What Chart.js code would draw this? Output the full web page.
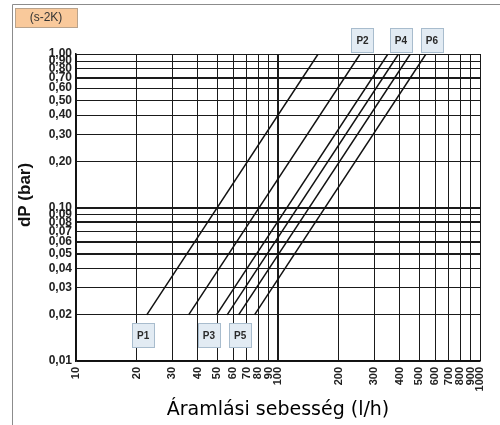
<!DOCTYPE html>
<html>
<head>
<meta charset="utf-8">
<script src="https://cdn.jsdelivr.net/npm/chart.js@4.4.1/dist/chart.umd.min.js"></script>
<style>
    html, body { margin: 0; padding: 0; background: #fff; }
    #wrap { width: 500px; height: 425px; }
</style>
</head>
<body>
<div id="wrap"><canvas id="chart"></canvas></div>
<script>
// Values
const seriesNames = ["P1", "P2", "P3", "P4", "P5", "P6"];
const dpEnds = [0.02, 1.00];                              // bar, where every line starts and ends
const flowAtLowDp = [22.4, 36.1, 49.6, 56.0, 63.8, 76.5]; // l/h at 0.02 bar
const flowAtHighDp = [158, 255, 350, 395, 452, 540];      // l/h at 1.00 bar

// where the P-name tags sit, in axis units
const tagFlow = [21.5, 262, 45.5, 406, 65, 578];
const tagDp = [0.0148, 1.235, 0.0148, 1.235, 0.0148, 1.235];

const xTicks = [10, 20, 30, 40, 50, 60, 70, 80, 90, 100, 200, 300, 400, 500, 600, 700, 800, 900, 1000];
const xTickLabels = ["10", "20", "30", "40", "50", "60", "70", "80", "90", "100", "200", "300", "400", "500", "600", "700", "800", "900", "1000"];
const yTicks = [0.01, 0.02, 0.03, 0.04, 0.05, 0.06, 0.07, 0.08, 0.09, 0.1, 0.2, 0.3, 0.4, 0.5, 0.6, 0.7, 0.8, 0.9, 1];
const yTickLabels = ["0,01", "0,02", "0,03", "0,04", "0,05", "0,06", "0,07", "0,08", "0,09", "0,10", "0,20", "0,30", "0,40", "0,50", "0,60", "0,70", "0,80", "0,90", "1,00"];

// grid lines that look heavier in the original
const yHeavy = [0.05, 0.06, 0.08, 0.1, 0.7];
const xHeavy = [100];

const datasets = seriesNames.map((name, i) => ({
    label: name,
    data: [
        { x: flowAtLowDp[i], y: dpEnds[0] },
        { x: flowAtHighDp[i], y: dpEnds[1] }
    ],
    borderColor: '#111',
    borderWidth: 1.5,
    pointRadius: 0,
    fill: false
}));

// frame, tag box, y title and the P1..P6 tags
const decorations = {
    id: 'decorations',
    afterDraw(chart) {
        const ctx = chart.ctx;
        const xs = chart.scales.x;
        const ys = chart.scales.y;
        ctx.save();

        // outer frame (only left and top visible)
        ctx.strokeStyle = '#8c8c8c';
        ctx.lineWidth = 1;
        ctx.beginPath();
        ctx.moveTo(12.5, 425);
        ctx.lineTo(12.5, 4.5);
        ctx.lineTo(500, 4.5);
        ctx.stroke();

        // (s-2K) box
        ctx.fillStyle = '#f9c99b';
        ctx.fillRect(15, 8, 62, 19);
        ctx.strokeStyle = '#b9a38c';
        ctx.strokeRect(15.5, 8.5, 62, 19);
        ctx.fillStyle = '#333';
        ctx.font = '12px "Liberation Sans", Arial, sans-serif';
        ctx.textAlign = 'center';
        ctx.textBaseline = 'middle';
        ctx.fillText('(s-2K)', 46, 18);

        // y axis title
        ctx.save();
        ctx.translate(25, 195);
        ctx.rotate(-Math.PI / 2);
        ctx.fillStyle = '#111';
        ctx.font = 'bold 17px "Liberation Sans", Arial, sans-serif';
        ctx.fillText('dP (bar)', 0, 0);
        ctx.restore();

        // series tags
        ctx.font = 'bold 10px "Liberation Sans", Arial, sans-serif';
        seriesNames.forEach((name, i) => {
            const cx = xs.getPixelForValue(tagFlow[i]);
            const cy = ys.getPixelForValue(tagDp[i]);
            ctx.fillStyle = '#e2ebf3';
            ctx.fillRect(Math.round(cx - 11), Math.round(cy - 12), 22, 24);
            ctx.strokeStyle = '#a8bccd';
            ctx.strokeRect(Math.round(cx - 11) + 0.5, Math.round(cy - 12) + 0.5, 22, 24);
            ctx.fillStyle = '#2a2a2a';
            ctx.fillText(name, cx, cy + 1);
        });

        ctx.restore();
    }
};

new Chart(document.getElementById('chart'), {
    type: 'line',
    data: { datasets: datasets },
    options: {
        responsive: true,
        maintainAspectRatio: false,
        animation: false,
        parsing: false,
        layout: { padding: { top: 54, right: 20, bottom: 0, left: 0 } },
        plugins: {
            legend: { display: false },
            tooltip: { enabled: false }
        },
        scales: {
            x: {
                type: 'logarithmic',
                min: 10,
                max: 1000,
                afterBuildTicks: scale => { scale.ticks = xTicks.map(v => ({ value: v })); },
                afterFit: scale => { scale.height = 64; },
                border: { display: true, color: '#111', width: 1.5 },
                grid: {
                    drawTicks: false,
                    color: '#1a1a1a',
                    lineWidth: c => xHeavy.includes(c.tick && c.tick.value) ? 2 : 1
                },
                ticks: {
                    autoSkip: false,
                    minRotation: 90,
                    maxRotation: 90,
                    padding: 6,
                    color: '#222',
                    font: { family: '"Liberation Sans", Arial, sans-serif', size: 11, weight: 'bold' },
                    callback: value => xTickLabels[xTicks.indexOf(value)]
                },
                title: {
                    display: true,
                    text: 'Áramlási sebesség (l/h)',
                    color: '#000',
                    font: { family: '"DejaVu Sans", sans-serif', size: 19 },
                    padding: { top: 0, bottom: 4 }
                }
            },
            y: {
                type: 'logarithmic',
                min: 0.01,
                max: 1,
                afterBuildTicks: scale => { scale.ticks = yTicks.map(v => ({ value: v })); },
                afterFit: scale => { scale.width = 76; },
                border: { display: true, color: '#111', width: 1.5 },
                grid: {
                    drawTicks: false,
                    color: '#1a1a1a',
                    lineWidth: c => yHeavy.includes(c.tick && c.tick.value) ? 2 : 1
                },
                ticks: {
                    autoSkip: false,
                    padding: 4,
                    color: '#222',
                    font: { family: '"Liberation Sans", Arial, sans-serif', size: 12, weight: 'bold' },
                    callback: value => yTickLabels[yTicks.indexOf(value)]
                }
            }
        }
    },
    plugins: [decorations]
});
</script>
</body>
</html>
